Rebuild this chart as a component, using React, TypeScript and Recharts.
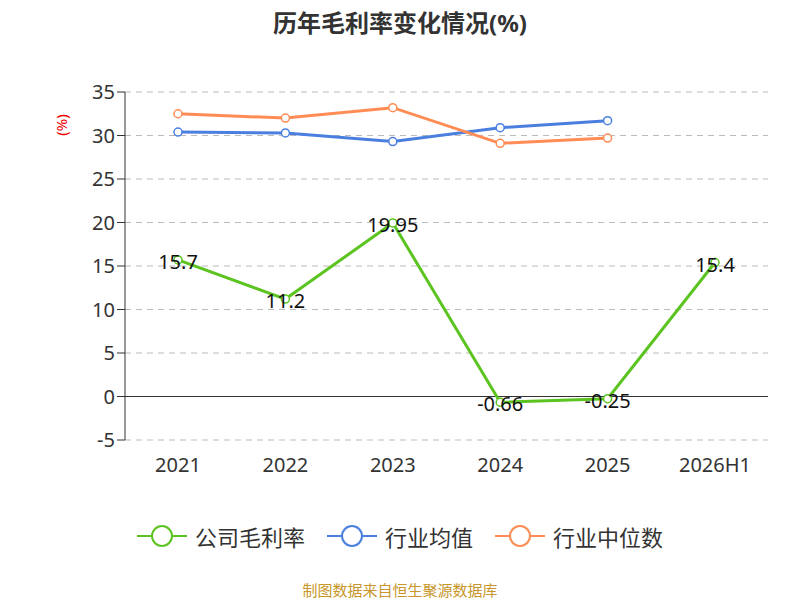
import { LineChart, Line, XAxis, YAxis, CartesianGrid, ReferenceLine, LabelList } from "recharts"

const years = ["2021", "2022", "2023", "2024", "2025", "2026H1"]
const company = [15.7, 11.2, 19.95, -0.66, -0.25, 15.4]
const industryAvg = [30.4, 30.3, 29.3, 30.9, 31.7, null]
const industryMedian = [32.5, 32.0, 33.2, 29.1, 29.7, null]
const yTicks = [-5, 0, 5, 10, 15, 20, 25, 30, 35]

const data = years.map((y, i) => ({
  year: y,
  company: company[i],
  avg: industryAvg[i],
  median: industryMedian[i],
}))

const series = [
  { key: "company", name: "公司毛利率", color: "#5cc420" },
  { key: "avg", name: "行业均值", color: "#4a7fe0" },
  { key: "median", name: "行业中位数", color: "#ff8c55" },
]

const font = "'Noto Sans', 'Noto Sans CJK SC', sans-serif"

export default function App() {
  return (
    <div style={{ position: "absolute", left: 0, top: 0, width: 800, height: 600, background: "#fff", fontFamily: font }}>
      <div style={{ position: "absolute", top: 4, width: 800, textAlign: "center", fontSize: 24, fontWeight: "bold", color: "#333" }}>
        历年毛利率变化情况(%)
      </div>
      <div style={{ position: "absolute", left: 50, top: 115, transform: "rotate(-90deg)", color: "#e00", fontSize: 15 }}>(%)</div>
      <LineChart width={800} height={600} data={data} margin={{ top: 92, right: 32, bottom: 0, left: 80 }}>
        <CartesianGrid vertical={false} stroke="#bbb" strokeDasharray="6 5" />
        <XAxis dataKey="year" axisLine={false} tickLine={false} height={160} padding={{ left: 53, right: 53 }} tick={{ fontSize: 20, fill: "#333" }} dy={10} />
        <YAxis width={45} domain={[-5, 35]} ticks={yTicks} interval={0} stroke="#333" tick={{ fontSize: 20, fill: "#333" }} tickSize={8} />
        <ReferenceLine y={0} stroke="#333" />
        {series.map((s) => (
          <Line key={s.key} name={s.name} dataKey={s.key} stroke={s.color} strokeWidth={3} dot={{ r: 4, fill: "#fff", strokeWidth: 1.5 }} isAnimationActive={false}>
            {s.key === "company" && <LabelList dataKey="company" position="center" dy={2} style={{ fontSize: 20, fill: "#111" }} />}
          </Line>
        ))}
      </LineChart>
      <div style={{ position: "absolute", top: 520, width: 800, display: "flex", justifyContent: "center", gap: 22, fontSize: 22, color: "#333" }}>
        {series.map((s) => (
          <div key={s.key} style={{ display: "flex", alignItems: "center", gap: 8 }}>
            <svg width={50} height={30}>
              <line x1={0} y1={15} x2={50} y2={15} stroke={s.color} strokeWidth={2} />
              <circle cx={25} cy={15} r={10} fill="#fff" stroke={s.color} strokeWidth={2} />
            </svg>
            <span>{s.name}</span>
          </div>
        ))}
      </div>
      <div style={{ position: "absolute", top: 579, width: 800, textAlign: "center", fontSize: 15, color: "#c8962a" }}>
        制图数据来自恒生聚源数据库
      </div>
    </div>
  )
}
